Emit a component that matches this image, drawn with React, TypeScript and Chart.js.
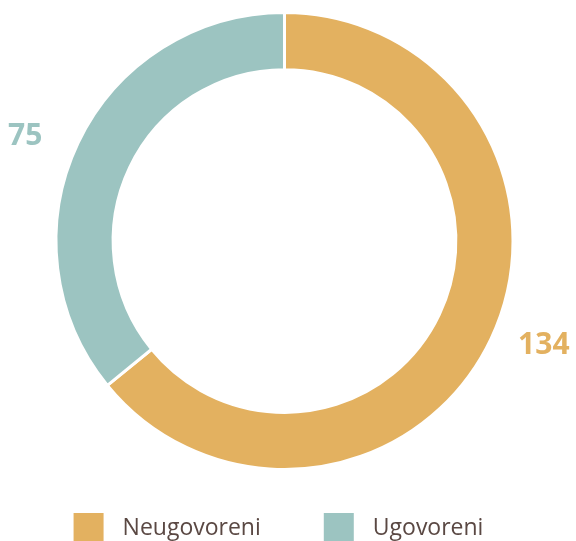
import React, { useEffect, useRef } from "react";
import { Chart, registerables } from "chart.js";

Chart.register(...registerables);

const categories = ["Neugovoreni", "Ugovoreni"];
const values = [134, 75];
const colors = ["#E3B160", "#9CC4C1"];

const FONT = "'Open Sans', 'DejaVu Sans', sans-serif";

const outsideLabels = {
  id: "outsideLabels",
  afterDatasetsDraw(chart: any) {
    const ctx = chart.ctx;
    const meta = chart.getDatasetMeta(0);
    ctx.save();
    ctx.font = `bold 30px ${FONT}`;
    ctx.textAlign = "center";
    ctx.textBaseline = "middle";
    meta.data.forEach((arc: any, i: number) => {
      const { x, y, startAngle, endAngle, outerRadius } = arc.getProps(
        ["x", "y", "startAngle", "endAngle", "outerRadius"],
        true
      );
      const mid = (startAngle + endAngle) / 2 - (3.5 * Math.PI) / 180;
      const r = outerRadius + 51;
      ctx.fillStyle = colors[i];
      ctx.fillText(String(values[i]), x + Math.cos(mid) * r, y + Math.sin(mid) * r);
    });
    ctx.restore();
  },
};

const customLegend = {
  id: "customLegend",
  afterDraw(chart: any) {
    const ctx = chart.ctx;
    const area = chart.chartArea;
    const cx = (area.left + area.right) / 2 - 6;
    const box = 30;
    const gap = 19;
    const itemGap = 63;
    ctx.save();
    ctx.font = `23px ${FONT}`;
    const widths = categories.map((c) => box + gap + ctx.measureText(c).width);
    const total = widths.reduce((a, b) => a + b, 0) + itemGap * (categories.length - 1);
    let x = cx - total / 2;
    const yTop = area.bottom + 42;
    ctx.textBaseline = "middle";
    ctx.textAlign = "left";
    categories.forEach((c, i) => {
      ctx.fillStyle = colors[i];
      ctx.fillRect(x, yTop, box, box);
      ctx.fillStyle = "#5A4843";
      ctx.fillText(c, x + box + gap, yTop + box / 2);
      x += widths[i] + itemGap;
    });
    ctx.restore();
  },
};

export default function App() {
  const ref = useRef<HTMLCanvasElement | null>(null);
  useEffect(() => {
    if (!ref.current) return;
    const chart = new Chart(ref.current, {
      type: "doughnut",
      data: {
        labels: categories,
        datasets: [
          {
            data: values,
            backgroundColor: colors,
            borderColor: "#ffffff",
            borderWidth: 3,
            hoverOffset: 0,
          },
        ],
      },
      options: {
        animation: false,
        responsive: true,
        maintainAspectRatio: false,
        cutout: "75%",
        layout: { padding: { top: 11, bottom: 70, left: 0, right: 7 } },
        plugins: {
          legend: { display: false },
          tooltip: { enabled: false },
        },
      },
      plugins: [outsideLabels, customLegend],
    });
    return () => chart.destroy();
  }, []);
  return (
    <div style={{ position: "absolute", left: 0, top: 0, width: 576, height: 541, background: "#fff" }}>
      <canvas ref={ref} />
    </div>
  );
}
